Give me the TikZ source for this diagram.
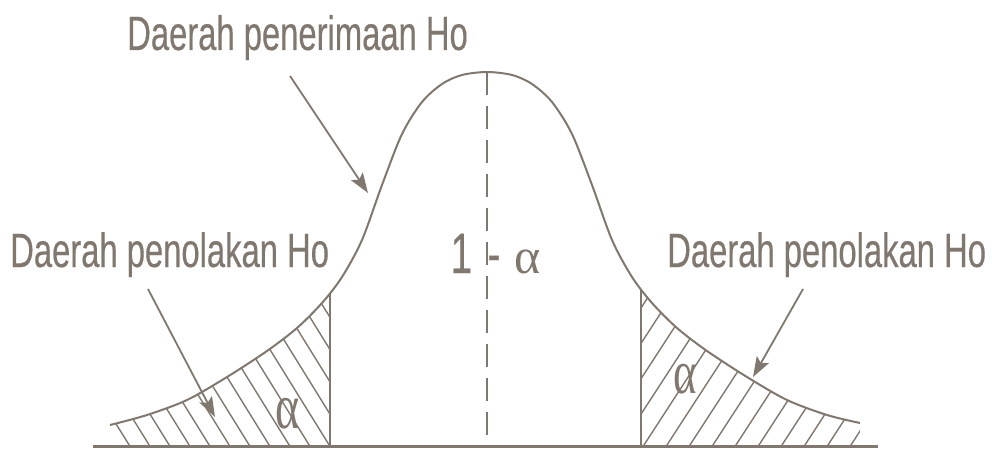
\documentclass[tikz,border=0pt]{standalone}
\usepackage{fontspec}
\usetikzlibrary{arrows.meta}
\newfontfamily\labfont[FakeStretch=0.68,FakeBold=0.3]{Liberation Sans}
\newfontfamily\alfont{Liberation Serif}
\newfontfamily\alnarrow[FakeStretch=0.72]{Liberation Serif}
\definecolor{ink}{RGB}{128,119,110}
\newcommand\curveplot{plot[smooth] coordinates {(110,425) (147,415) (187,400) (227,377) (267,351) (297,328) (322,303) (342,277) (362,240) (382,185) (402,134) (422,102) (442,84) (462,75) (487,72) (512,75) (532,84) (552,102) (572,134) (592,185) (612,240) (632,277) (652,303) (677,328) (707,351) (747,377) (787,400) (827,415) (860,423)}}
\begin{document}
\begin{tikzpicture}[x=1pt,y=-1pt,color=ink,line join=round,
  curvestyle/.style={line width=2pt},
  hatchline/.style={line width=1.4pt},
  arr/.style={line width=1.8pt,-{Stealth[length=20pt,width=14pt,inset=4pt]}},
  lab/.style={font=\labfont\fontsize{48.2}{50}\selectfont,inner sep=0pt,anchor=base west,text=ink}]
\useasboundingbox (0,0) rectangle (992,449);
% curve and hatching
\begin{scope}
  \clip \curveplot -- (860,447) -- (110,447) -- cycle;
  \begin{scope}
    \clip (100,250) rectangle (330,450);
    \foreach \k in {-7,...,14}
      \draw[hatchline] ({331-20*\k},448) -- ({331-20*\k-0.62*190},258);
  \end{scope}
  \begin{scope}
    \clip (641,250) rectangle (870,450);
    \foreach \k in {-6,...,11}
      \draw[hatchline] ({642+23*\k},448) -- ({642+23*\k+0.65*190},258);
  \end{scope}
  \draw[curvestyle] (330,250) -- (330,447);
  \draw[curvestyle] (641,250) -- (641,447);
\end{scope}
\draw[curvestyle] \curveplot;
\draw[line width=2.5pt] (93,446.5) -- (878,446.5);
\draw[line width=2pt,dash pattern=on 23pt off 11pt] (487,72) -- (487,446);
% labels
\node[lab] (top) at (127,50) {Daerah penerimaan Ho};
\node[lab] (lrej) at (10,267) {Daerah penolakan Ho};
\node[lab] (rrej) at (667,267) {Daerah penolakan Ho};
\node[inner sep=0pt,anchor=base,font=\labfont\fontsize{57}{60}\selectfont] (one) at (461.5,273) {1};
\node[inner sep=0pt,anchor=base,font=\labfont\fontsize{57}{60}\selectfont] (minus) at (494,273) {-};
\node[inner sep=0pt,anchor=base,font=\alfont\fontsize{50}{52}\selectfont] (calpha) at (528,273) {α};
\node[inner sep=0pt,anchor=base,font=\alnarrow\fontsize{64}{66}\selectfont] (lalpha) at (288,428) {α};
\node[inner sep=0pt,anchor=base,font=\alnarrow\fontsize{62}{64}\selectfont] (ralpha) at (685,393) {α};
% arrows
\coordinate (s1) at (290,76); \coordinate (e1) at (368,193);
\coordinate (s2) at (148,289); \coordinate (e2) at (215,417);
\coordinate (s3) at (803,289); \coordinate (e3) at (753,377);
\draw[arr] (s1) -- (e1);
\draw[arr] (s2) -- (e2);
\draw[arr] (s3) -- (e3);
\end{tikzpicture}
\end{document}
